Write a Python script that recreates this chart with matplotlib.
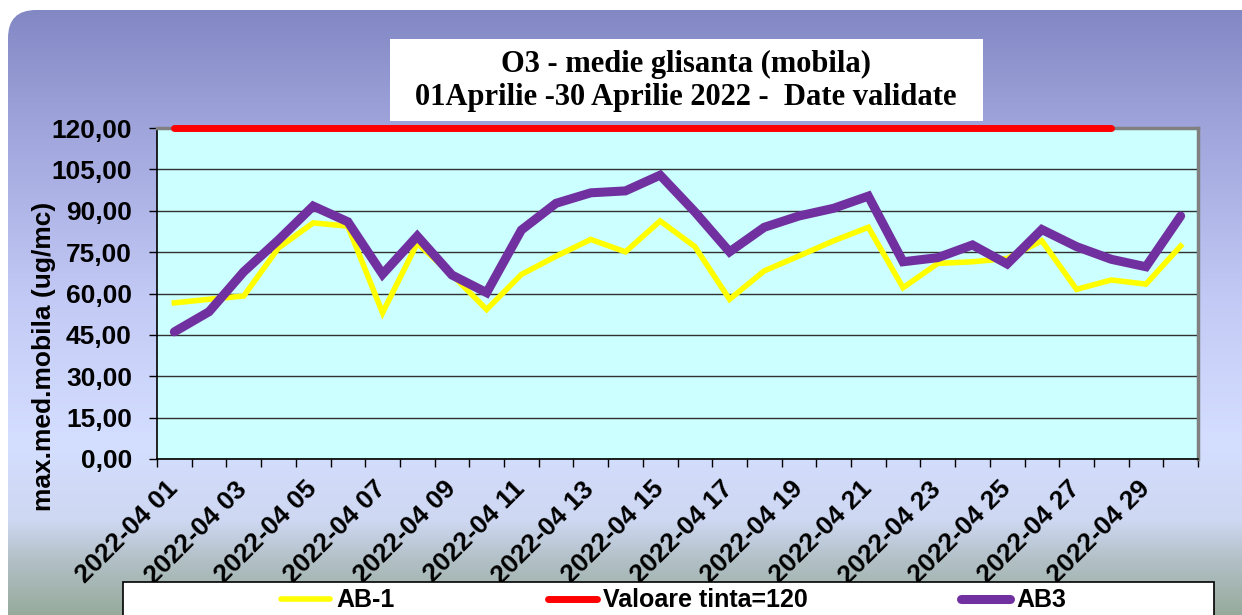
import numpy as np
import matplotlib
matplotlib.use('Agg')
import matplotlib.pyplot as plt
from matplotlib.patches import FancyBboxPatch, Rectangle
from matplotlib.lines import Line2D


# data
days = ['01', '02', '03', '04', '05', '06', '07', '08', '09', '10',
        '11', '12', '13', '14', '15', '16', '17', '18', '19', '20',
        '21', '22', '23', '24', '25', '26', '27', '28', '29', '30']
dates = [f'2022-04 {d}' for d in days]

ab1 = [56.6, 57.9, 59.1, 76.5, 85.6, 84.4, 53.0, 78.2, 66.8, 54.2,
       66.9, 73.5, 79.6, 75.1, 86.3, 77.0, 57.9, 68.2, 73.6, 79.1,
       84.0, 62.1, 70.9, 71.5, 72.7, 79.1, 61.5, 64.9, 63.4, 77.2]
ab3 = [46.1, 53.4, 67.9, 79.4, 91.7, 86.0, 67.0, 80.8, 66.7, 60.3,
       83.0, 92.7, 96.5, 97.2, 102.9, 89.6, 75.1, 84.0, 88.1, 90.9,
       95.3, 71.5, 73.0, 77.6, 70.7, 83.2, 77.0, 72.4, 69.7, 88.1]
target = [120] * 28

y_ticks = [0, 15, 30, 45, 60, 75, 90, 105, 120]
y_ticklabels = ['0,00', '15,00', '30,00', '45,00', '60,00', '75,00',
                '90,00', '105,00', '120,00']

title = 'O3 - medie glisanta (mobila)\n01Aprilie -30 Aprilie 2022 -  Date validate'
ylabel = 'max.med.mobila (ug/mc)'
series_names = ['AB-1', 'Valoare tinta=120', 'AB3']
colors = {'AB-1': '#ffff00', 'Valoare tinta=120': '#ff0000', 'AB3': '#7030a0'}
widths = {'AB-1': 4, 'Valoare tinta=120': 5, 'AB3': 6.5}

W, H = 1242, 615
fig = plt.figure(figsize=(W / 100, H / 100), dpi=100)
fig.patch.set_facecolor('white')

# background panel with vertical gradient, in pixel coordinates
bg = fig.add_axes([0, 0, 1, 1], zorder=-10)
bg.set_xlim(0, W)
bg.set_ylim(H, 0)
bg.axis('off')
stops_y = [10, 130, 300, 440, 520, 560, 615]
stops_c = [(130, 136, 196), (160, 165, 220), (195, 202, 245), (212, 222, 255),
           (206, 216, 242), (178, 192, 198), (150, 170, 155)]
yy = np.arange(H)
grad = np.zeros((H, 1, 3))
for k in range(3):
    grad[:, 0, k] = np.interp(yy, stops_y, [c[k] / 255 for c in stops_c])
panel = FancyBboxPatch((8, 10), 1300, 700,
                       boxstyle='round,pad=0,rounding_size=28',
                       facecolor='none', edgecolor='none')
bg.add_patch(panel)
img = bg.imshow(grad, extent=(0, W, H, 0), aspect='auto', interpolation='bilinear')
img.set_clip_path(panel)

# main plot
ax = fig.add_axes([157 / W, 1 - 459 / H, (1198 - 157) / W, (459 - 128) / H], zorder=1)
ax.set_facecolor('#ccffff')
x = np.arange(1, len(dates) + 1)

ax.plot(x, ab1, color=colors['AB-1'], lw=widths['AB-1'], zorder=3,
        solid_joinstyle='miter')
ax.plot(x[:len(target)], target, color=colors['Valoare tinta=120'],
        lw=widths['Valoare tinta=120'], zorder=4, clip_on=False,
        solid_capstyle='round')
ax.plot(x, ab3, color=colors['AB3'], lw=widths['AB3'], zorder=5,
        solid_joinstyle='miter', solid_capstyle='round')

ax.set_xlim(0.5, len(dates) + 0.5)
ax.set_ylim(0, 120)
ax.set_yticks(y_ticks)
ax.set_yticklabels(y_ticklabels, fontsize=19, fontweight='bold',
                   family='Liberation Sans')
ax.yaxis.grid(True, color='#303030', lw=1.0)
ax.set_axisbelow(True)

ax.set_xticks(np.arange(0.5, len(dates) + 1, 1))
ax.set_xticklabels([])
ax.set_xticks(x[::2], minor=True)
ax.set_xticklabels(dates[::2], minor=True, rotation=45, ha='right', va='center',
                   rotation_mode='anchor', fontsize=19, fontweight='bold',
                   family='Liberation Sans')
ax.tick_params(axis='x', which='major', length=6, width=1, direction='out')
ax.tick_params(axis='x', which='minor', length=0, pad=19)
ax.tick_params(axis='y', length=6, width=1, direction='out', pad=12)

ax.set_ylabel(ylabel, fontsize=19, fontweight='bold', family='Liberation Sans')
ax.yaxis.set_label_coords(-0.097, 0.31)

for side in ['left', 'bottom']:
    ax.spines[side].set_color('black')
    ax.spines[side].set_linewidth(1.2)
for side in ['top', 'right']:
    ax.spines[side].set_color('#808080')
    ax.spines[side].set_linewidth(2.5)

# overlay for title box and legend
ov = fig.add_axes([0, 0, 1, 1], zorder=10)
ov.set_xlim(0, W)
ov.set_ylim(H, 0)
ov.axis('off')
ov.patch.set_alpha(0)

ov.add_patch(Rectangle((390, 39), 593, 82, facecolor='white', edgecolor='none'))
ov.text(686, 81, title, ha='center', va='center', fontsize=22,
        fontweight='bold', family='Liberation Serif', linespacing=1.15)

ov.add_patch(Rectangle((123, 582), 1091, 80, facecolor='white',
                       edgecolor='black', lw=1.2, clip_on=False))
key_x = [278, 545, 958]
for name, kx in zip(series_names, key_x):
    ov.add_line(Line2D([kx + 3, kx + 52], [599, 599], color=colors[name],
                       lw=widths[name], solid_capstyle='round'))
    ov.text(kx + 58, 600, name, ha='left', va='center', fontsize=18,
            fontweight='bold', family='Liberation Sans')

fig.savefig('out.png', dpi=100)
